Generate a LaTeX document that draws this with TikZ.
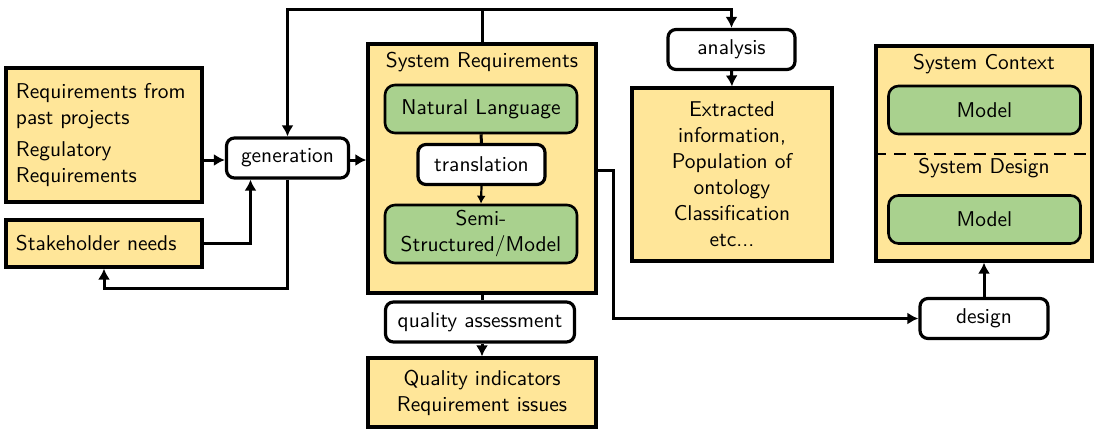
\documentclass[tikz,border=0pt]{standalone}
\usepackage{tikz}
\usetikzlibrary{positioning,calc,arrows.meta}
\renewcommand{\familydefault}{\sfdefault}
\definecolor{docyellow}{HTML}{FFE699}
\definecolor{modelgreen}{HTML}{A9D18E}
\tikzset{
  doc/.style={draw, fill=docyellow, line width=1.6pt, inner sep=5pt},
  proc/.style={draw, fill=white, rounded corners=4pt, line width=1.6pt, inner sep=0pt},
  model/.style={draw, fill=modelgreen, rounded corners=5pt, line width=1.3pt, inner sep=0pt},
  link/.style={line width=1.5pt},
  flow/.style={line width=1.5pt, -{Latex[length=5.5pt,width=6pt]}},
  thinflow/.style={line width=1.1pt, -{Latex[length=4pt,width=4.5pt]}},
}
\newcommand{\pnode}[4]{\node [proc, minimum width=#3, minimum height=20pt] (#1) at (#2) {#4}}
\newcommand{\mnode}[4]{\node [model, minimum width=96pt, minimum height=#3, align=center] (#1) at (#2) {#4}}

\begin{document}
\begin{tikzpicture}[x=0.5pt, y=-0.5pt, font=\fontsize{10.7}{13}\selectfont]
\useasboundingbox (0,0) rectangle (1094,430);

% inputs
\node [doc, minimum width=98pt, minimum height=67pt, text width=88pt, align=left] (past) at (104,135)
  {Requirements from\\past projects\\[3pt] Regulatory\\Requirements};
\node [doc, minimum width=98pt, minimum height=23.5pt, text width=88pt, align=left] (stake) at (104,243.5)
  {Stakeholder needs};

\pnode{gen}{287.5,158}{61pt}{generation};

% system requirements
\node [doc, minimum width=114pt, minimum height=124.5pt] (sysreq) at (482,168.5) {};
\node (sysreqtitle) at (482,62) {System Requirements};
\mnode{natlang}{481,109}{24pt}{Natural Language};
\pnode{trans}{481.5,164.5}{63.5pt}{translation};
\mnode{semi}{481,234}{29pt}{Semi-\\Structured/Model};

\pnode{qa}{480,322}{94.5pt}{quality assessment};
\node [doc, minimum width=114pt, minimum height=34.5pt, align=center] (quality) at (482,392.5)
  {Quality indicators\\Requirement issues};

% analysis
\pnode{ana}{731.5,49.5}{63.5pt}{analysis};
\node [doc, minimum width=100pt, minimum height=86.5pt, align=center] (extract) at (732,174.5)
  {Extracted\\information,\\Population of\\ontology\\Classification\\etc...};

% context and design
\node [doc, minimum width=108pt, minimum height=107.5pt] (ctx) at (984,153.5) {};
\draw [line width=1.3pt, dash pattern=on 6pt off 4pt] (ctx.west |- 0,154) -- (ctx.east |- 0,154);
\node (ctxtitle) at (984,64) {System Context};
\mnode{ctxmodel}{984.5,110}{24pt}{Model};
\node (destitle) at (984,168) {System Design};
\mnode{desmodel}{984.5,219.5}{24pt}{Model};
\pnode{design}{984,318.5}{64pt}{design};

\coordinate (top) at (0,9);
\coordinate (low) at (0,288);

% connectors
\draw [flow] (past.east |- 0,160) -- (gen.west |- 0,160);
\draw [flow] (stake.east) -| ([xshift=-18.5pt]gen.south);
\draw [flow] (gen.south) -- (gen.south |- low) -| (stake.south);
\draw [flow] (gen.east |- 0,160) -- (sysreq.west |- 0,160);
\draw [flow] (sysreq.north) -- (sysreq.north |- top) -| (gen.north);
\draw [flow] (sysreq.north |- top) -| (ana.north);
\draw [link] (natlang.south) -- (trans.north);
\draw [thinflow] (trans.south) -- (semi.north);
\draw [link] (sysreq.south) -- (sysreq.south |- qa.north);
\draw [flow] (qa.south -| quality.north) -- (quality.north);
\draw [flow] (ana.south) -- (extract.north);
\draw [flow] (sysreq.east |- 0,170) -- (613,170) |- (design.west);
\draw [flow] (design.north) -- (ctx.south);

\end{tikzpicture}
\end{document}
